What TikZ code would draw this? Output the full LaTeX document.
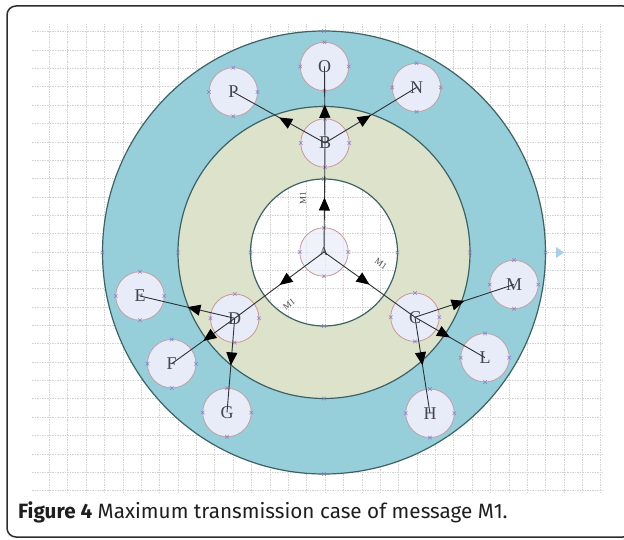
\documentclass[tikz,border=0pt]{standalone}
\usepackage{fontspec}
\setmainfont{Liberation Serif}
\newfontfamily\capfont{Fira Sans}
\usetikzlibrary{arrows.meta,decorations.markings}
\definecolor{tealring}{RGB}{150,206,218}
\definecolor{beigering}{RGB}{221,226,203}
\definecolor{ringline}{RGB}{60,98,100}
\definecolor{nodefill}{RGB}{232,236,248}
\definecolor{rimin}{RGB}{205,150,150}
\definecolor{rimout}{RGB}{192,160,166}
\definecolor{xcol}{RGB}{140,125,205}
\definecolor{letter}{RGB}{70,70,80}
\definecolor{connline}{RGB}{45,50,55}
\definecolor{gridcol}{RGB}{210,210,210}
\definecolor{framecol}{RGB}{45,45,45}
\definecolor{tri}{RGB}{170,205,235}
\definecolor{captext}{RGB}{30,30,30}
\begin{document}
\begin{tikzpicture}[x=1pt,y=-1pt,
  gridl/.style={draw=gridcol,dash pattern=on 1.5pt off 1pt,line width=0.5pt},
  ringl/.style={draw=ringline,line width=1.2pt},
  nd/.style={circle,minimum size=48.5pt,inner sep=0pt,outer sep=0pt,fill=nodefill,draw=rimout,line width=0.8pt,
    font=\fontsize{18}{18}\selectfont,text=letter},
  ndin/.style={nd,draw=rimin},
  conn/.style={draw=connline,line width=0.9pt,
    postaction={decorate},
    decoration={markings,mark=at position 0.5 with {\arrow[black]{Triangle[length=13pt,width=11pt]}}}},
  mlab/.style={font=\fontsize{9}{9}\selectfont,text=letter,inner sep=0pt},
  xmark/.pic={\draw[xcol,line width=0.5pt] (-1.8,-1.8)--(1.8,1.8) (-1.8,1.8)--(1.8,-1.8);}
]
\useasboundingbox (0,0) rectangle (624,540);
% frame
\draw[framecol,line width=1.5pt,rounded corners=9pt] (7,6) rectangle (632,537);
% grid
\foreach \i in {0,...,30} \draw[gridl] ({49.3+\i*18.38},24) -- ({49.3+\i*18.38},492);
\foreach \j in {0,...,25} \draw[gridl] (32,{31.7+\j*18.35}) -- (603,{31.7+\j*18.35});
% rings
\coordinate (ctr) at (324,252.5);
\fill[tealring,even odd rule] (ctr) circle[radius=221.5] (ctr) circle[radius=146];
\fill[beigering,even odd rule] (ctr) circle[radius=146] (ctr) circle[radius=73.5];
\draw[ringl] (ctr) circle[radius=221.5];
\draw[ringl] (ctr) circle[radius=146];
\draw[ringl] (ctr) circle[radius=73.5];
\foreach \r in {221.5,146,73.5}{
  \path (ctr) ++(\r,0) pic {xmark};
  \path (ctr) ++(-\r,0) pic {xmark};
  \path (ctr) ++(0,\r) pic {xmark};
  \path (ctr) ++(0,-\r) pic {xmark};
}
\fill[tri] (556,247) -- (564,252.5) -- (556,258) -- cycle;
% nodes
\node[ndin,fill opacity=0.7,text opacity=1,font=\fontsize{12}{12}\selectfont] (A) at (324,252) {A};
\node[ndin] (B) at (325,143) {B};
\node[ndin] (D) at (234.7,318.3) {D};
\node[ndin] (C) at (415,317.2) {C};
\node[nd] (O) at (324.5,66.5) {O};
\node[nd] (P) at (233.3,92) {P};
\node[nd] (N) at (416.5,87.5) {N};
\node[nd] (E) at (140,296) {E};
\node[nd] (F) at (171.7,363.7) {F};
\node[nd] (G) at (227,412.5) {G};
\node[nd] (M) at (514,284.5) {M};
\node[nd] (L) at (485,357.7) {L};
\node[nd] (H) at (430,413.3) {H};
\foreach \n in {A,B,C,D,O,P,N,E,F,G,M,L,H}{
  \foreach \a in {north,south,east,west}{
    \path (\n.\a) pic {xmark};
  }
}
% connectors
\draw[conn] (A.center) -- (B.center);
\draw[conn] (A.center) -- (D.center);
\draw[conn] (A.center) -- (C.center);
\draw[conn] (B.center) -- (O.center);
\draw[conn] (B.center) -- (P.center);
\draw[conn] (B.center) -- (N.center);
\draw[conn] (D.center) -- (E.center);
\draw[conn] (D.center) -- (F.center);
\draw[conn] (D.center) -- (G.center);
\draw[conn] (C.center) -- (M.center);
\draw[conn] (C.center) -- (L.center);
\draw[conn] (C.center) -- (H.center);
% labels
\node[mlab,rotate=90] (m1) at (303,198) {M1};
\node[mlab,rotate=-35] (m2) at (381,264) {M1};
\node[mlab,rotate=37] (m3) at (289,304) {M1};
% caption
\node[anchor=base west,inner sep=0pt,text=captext,font=\capfont\fontsize{20.7}{22}\selectfont] (cap) at (18,518)
  {\textbf{Figure 4} Maximum transmission case of message M1.};
\end{tikzpicture}
\end{document}
